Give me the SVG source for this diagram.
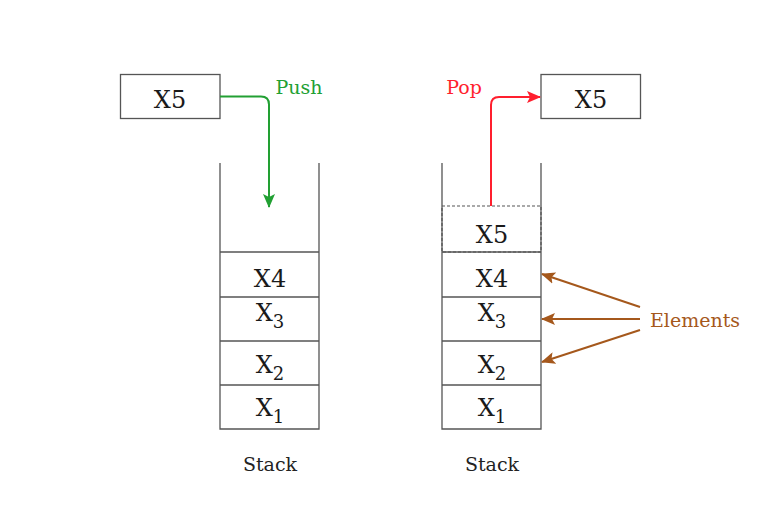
<svg xmlns="http://www.w3.org/2000/svg" width="768" height="516" viewBox="0 0 768 516">
<style>
.box{fill:#fff;stroke:#555;stroke-width:1.3}
.wall{fill:none;stroke:#555;stroke-width:1.3}
.dash{fill:none;stroke:#555;stroke-width:1.2;stroke-dasharray:3 2}
.lbl{font-family:"DejaVu Serif",serif;font-size:24px;fill:#1a1a1a;text-anchor:middle}
.cap{font-family:"DejaVu Serif",serif;font-size:19px;text-anchor:middle}
.sub{font-size:18px}
</style>
<defs>
<marker id="mg" viewBox="0 0 14 12" refX="13" refY="6" markerWidth="14" markerHeight="12" markerUnits="userSpaceOnUse" orient="auto"><path d="M0,0 L14,6 L0,12 L3,6 Z" fill="#22a033"/></marker>
<marker id="mr" viewBox="0 0 14 12" refX="13" refY="6" markerWidth="14" markerHeight="12" markerUnits="userSpaceOnUse" orient="auto"><path d="M0,0 L14,6 L0,12 L3,6 Z" fill="#ff1f2e"/></marker>
<marker id="mb" viewBox="0 0 14 12" refX="13" refY="6" markerWidth="14" markerHeight="12" markerUnits="userSpaceOnUse" orient="auto"><path d="M0,0 L14,6 L0,12 L3,6 Z" fill="#a5581c"/></marker>
</defs>
<rect width="768" height="516" fill="#fff"/>

<g id="push-source">
<rect class="box" x="120.5" y="74.5" width="99.5" height="44"/>
<text class="lbl" x="170" y="108">X5</text>
</g>

<g id="left-stack">
<path class="wall" d="M220,163 V429 H319 V163"/>
<line class="wall" x1="220" y1="252" x2="319" y2="252"/>
<line class="wall" x1="220" y1="297" x2="319" y2="297"/>
<line class="wall" x1="220" y1="341" x2="319" y2="341"/>
<line class="wall" x1="220" y1="385" x2="319" y2="385"/>
<text class="lbl" x="270" y="287">X4</text>
<text class="lbl" x="270" y="321">X<tspan class="sub" dy="7">3</tspan></text>
<text class="lbl" x="270" y="373">X<tspan class="sub" dy="7">2</tspan></text>
<text class="lbl" x="270" y="416">X<tspan class="sub" dy="7">1</tspan></text>
<text class="cap" x="270" y="471" fill="#222">Stack</text>
</g>

<g id="pop-target">
<rect class="box" x="541" y="74.5" width="99.5" height="44"/>
<text class="lbl" x="591" y="108">X5</text>
</g>

<g id="right-stack">
<path class="wall" d="M442,163 V429 H541 V163"/>
<rect class="dash" x="442" y="206" width="99" height="46"/>
<line class="wall" x1="442" y1="252" x2="541" y2="252"/>
<line class="wall" x1="442" y1="297" x2="541" y2="297"/>
<line class="wall" x1="442" y1="341" x2="541" y2="341"/>
<line class="wall" x1="442" y1="385" x2="541" y2="385"/>
<text class="lbl" x="492" y="243">X5</text>
<text class="lbl" x="492" y="287">X4</text>
<text class="lbl" x="492" y="321">X<tspan class="sub" dy="7">3</tspan></text>
<text class="lbl" x="492" y="373">X<tspan class="sub" dy="7">2</tspan></text>
<text class="lbl" x="492" y="416">X<tspan class="sub" dy="7">1</tspan></text>
<text class="cap" x="492" y="471" fill="#222">Stack</text>
</g>

<g id="labels">
<text class="cap" x="299" y="94" fill="#22a033">Push</text>
<text class="cap" x="464" y="94" fill="#ff1f2e">Pop</text>
<text class="cap" x="695" y="327" fill="#a5581c">Elements</text>
</g>

<g id="connectors" fill="none" stroke-width="2">
<path d="M220,96.5 H261 Q269,96.5 269,104.5 V207" stroke="#22a033" marker-end="url(#mg)"/>
<path d="M491,206 V105 Q491,97 499,97 H540" stroke="#ff1f2e" marker-end="url(#mr)"/>
<path d="M640,307 L542,274" stroke="#a5581c" marker-end="url(#mb)"/>
<path d="M640,319 L542,319" stroke="#a5581c" marker-end="url(#mb)"/>
<path d="M640,330 L542,362" stroke="#a5581c" marker-end="url(#mb)"/>
</g>
</svg>
